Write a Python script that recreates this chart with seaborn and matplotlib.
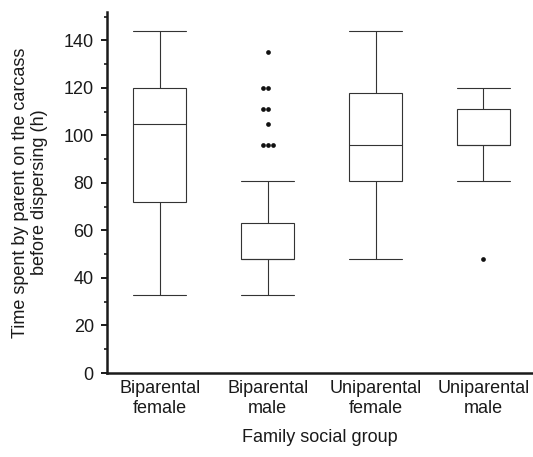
import seaborn as sns
import matplotlib.pyplot as plt
import pandas as pd
from matplotlib.ticker import MultipleLocator

# groups and hours (raw values chosen to give the drawn boxes)
groups = ['Biparental\nfemale', 'Biparental\nmale', 'Uniparental\nfemale', 'Uniparental\nmale']
bip_female = [33, 48, 72, 72, 96, 105, 105, 120, 120, 130, 144]
bip_male = [33, 36, 40, 40, 44, 44, 46, 48, 48, 48,
            48, 48, 48, 48, 48, 48, 48, 48, 48, 48, 48,
            52, 54, 56, 57, 58, 60, 60, 62, 63, 63,
            81, 96, 96, 96, 105, 111, 111, 120, 120, 135]
uni_female = [48, 72, 81, 90, 96, 105, 118, 130, 144]
uni_male = [48, 81, 96, 96, 96, 105, 111, 120, 120]

rows = []
for g, vals in zip(groups, [bip_female, bip_male, uni_female, uni_male]):
    for v in vals:
        rows.append({'group': g, 'hours': v})
df = pd.DataFrame(rows)

# outliers (beyond 1.5 IQR) drawn separately so tied values sit side by side
q = df.groupby('group')['hours'].quantile([0.25, 0.75]).unstack()
iqr = q[0.75] - q[0.25]
lo = df['group'].map(q[0.25] - 1.5 * iqr)
hi = df['group'].map(q[0.75] + 1.5 * iqr)
outl = df[(df['hours'] < lo) | (df['hours'] > hi)]

sns.set_style('ticks')
plt.rcParams['font.family'] = ['Liberation Sans', 'DejaVu Sans']

fig = plt.figure(figsize=(5.33, 4.57), dpi=100)
ax = fig.add_axes([0.2008, 0.1838, 0.7992, 0.79])

sns.boxplot(data=df, x='group', y='hours', order=groups, ax=ax,
            width=0.49, color='white', linecolor='#333333', linewidth=0.8,
            capwidths=0.49, showfliers=False)
sns.swarmplot(data=outl, x='group', y='hours', order=groups, ax=ax,
              color='#111111', size=3.4, linewidth=0)

ax.set_ylim(0, 152)
ax.set_xlim(-0.49, 3.46)
ax.yaxis.set_minor_locator(MultipleLocator(10))
ax.set_yticks(range(0, 141, 20))

sns.despine(ax=ax)
for s in ['left', 'bottom']:
    ax.spines[s].set_linewidth(1.8)
    ax.spines[s].set_color('#1a1a1a')

ax.tick_params(axis='y', which='major', length=4.5, width=1.4, labelsize=13, pad=5, colors='#1a1a1a')
ax.tick_params(axis='y', which='minor', length=2.5, width=1.2, colors='#1a1a1a')
ax.tick_params(axis='x', length=0, labelsize=13, pad=5, colors='#1a1a1a')

ax.set_xlabel('Family social group', fontsize=13, labelpad=9, color='#1a1a1a')
ax.set_ylabel('Time spent by parent on the carcass\nbefore dispersing (h)', fontsize=13,
              labelpad=11, color='#1a1a1a')

fig.savefig('out.png', dpi=100)
